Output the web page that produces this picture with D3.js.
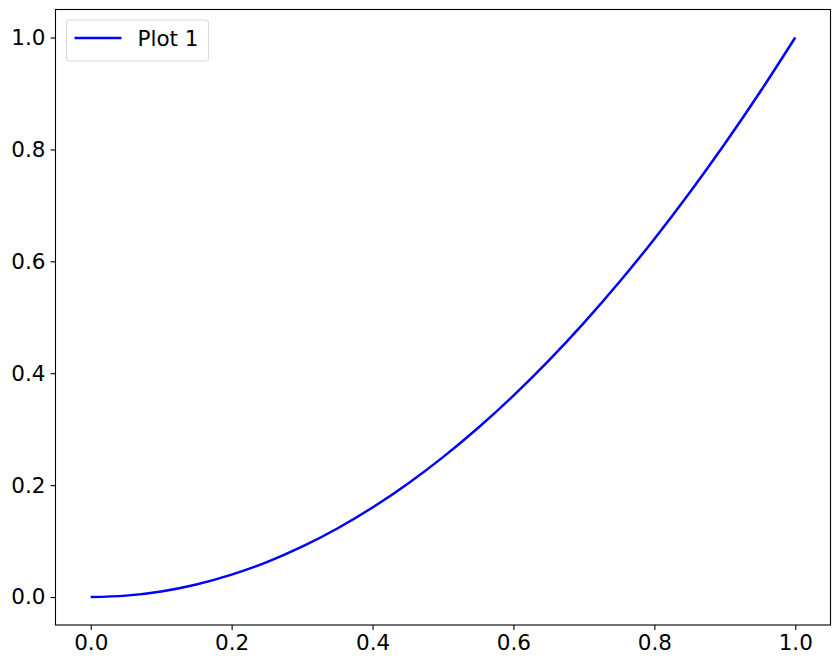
<!DOCTYPE html>
<html>
<head>
<meta charset="utf-8">
<title>Plot 1</title>
<style type="text/css">
body { margin: 0; background: #fff; }
svg { display: block; }
.axis text { font-family: "DejaVu Sans", sans-serif; font-size: 21.5px; fill: #000; }
.axis path, .axis line { stroke: #000; stroke-width: 1.1px; }
.line { fill: none; stroke: #0000ff; stroke-width: 2.5px; }
</style>
<script src="https://cdn.jsdelivr.net/npm/d3@7"></script>
</head>
<body>
<svg width="839" height="667"></svg>
<script type="text/javascript">

// values
var xValues = [0, 0.05, 0.1, 0.15, 0.2, 0.25, 0.3, 0.35, 0.4, 0.45, 0.5,
               0.55, 0.6, 0.65, 0.7, 0.75, 0.8, 0.85, 0.9, 0.95, 1.0];
var yValues = [0, 0.0025, 0.01, 0.0225, 0.04, 0.0625, 0.09, 0.1225, 0.16, 0.2025, 0.25,
               0.3025, 0.36, 0.4225, 0.49, 0.5625, 0.64, 0.7225, 0.81, 0.9025, 1.0];
var xTicks = [0, 0.2, 0.4, 0.6, 0.8, 1.0];
var yTicks = [0, 0.2, 0.4, 0.6, 0.8, 1.0];
var seriesName = "Plot 1";

var svg = d3.select("svg"),
    margin = {top: 9.5, right: 8.5, bottom: 42, left: 55.5},
    width = svg.attr("width") - margin.left - margin.right,
    height = svg.attr("height") - margin.top - margin.bottom,
    g = svg.append("g").attr("transform", "translate(" + margin.left + "," + margin.top + ")");

var xScale = d3.scaleLinear().domain([-0.05, 1.05]).range([0, width]),
    yScale = d3.scaleLinear().domain([-0.05, 1.05]).range([height, 0]);

var points = xValues.map(function(x, i) { return [x, yValues[i]]; });

g.append("g")
  .attr("class", "axis axis--x")
  .attr("transform", "translate(0," + height + ")")
  .call(d3.axisBottom(xScale).tickValues(xTicks).tickFormat(d3.format(".1f")).tickSizeOuter(0).tickSize(5).tickPadding(5))
  .call(function(s) { s.select(".domain").remove(); });

g.append("g")
  .attr("class", "axis axis--y")
  .call(d3.axisLeft(yScale).tickValues(yTicks).tickFormat(d3.format(".1f")).tickSizeOuter(0).tickSize(5).tickPadding(5))
  .call(function(s) { s.select(".domain").remove(); });

g.append("path")
  .datum(points)
  .attr("class", "line")
  .attr("d", d3.line().curve(d3.curveMonotoneX)
    .x(function(d) { return xScale(d[0]); })
    .y(function(d) { return yScale(d[1]); }));

// frame
g.append("rect")
  .attr("width", width).attr("height", height)
  .attr("fill", "none").attr("stroke", "#000").attr("stroke-width", 1.1);

// legend
var legend = g.append("g").attr("transform", "translate(11,10.5)");
legend.append("rect")
  .attr("width", 142).attr("height", 41).attr("rx", 3)
  .attr("fill", "#fff").attr("fill-opacity", 0.8)
  .attr("stroke", "#d9d9d9").attr("stroke-width", 1);
legend.append("line")
  .attr("x1", 8).attr("x2", 55).attr("y1", 18).attr("y2", 18)
  .attr("stroke", "#0000ff").attr("stroke-width", 2.5);
legend.append("text")
  .attr("x", 71).attr("y", 25.5)
  .attr("font-family", "DejaVu Sans, sans-serif").attr("font-size", "21.5px")
  .text(seriesName);

</script>
</body>
</html>
